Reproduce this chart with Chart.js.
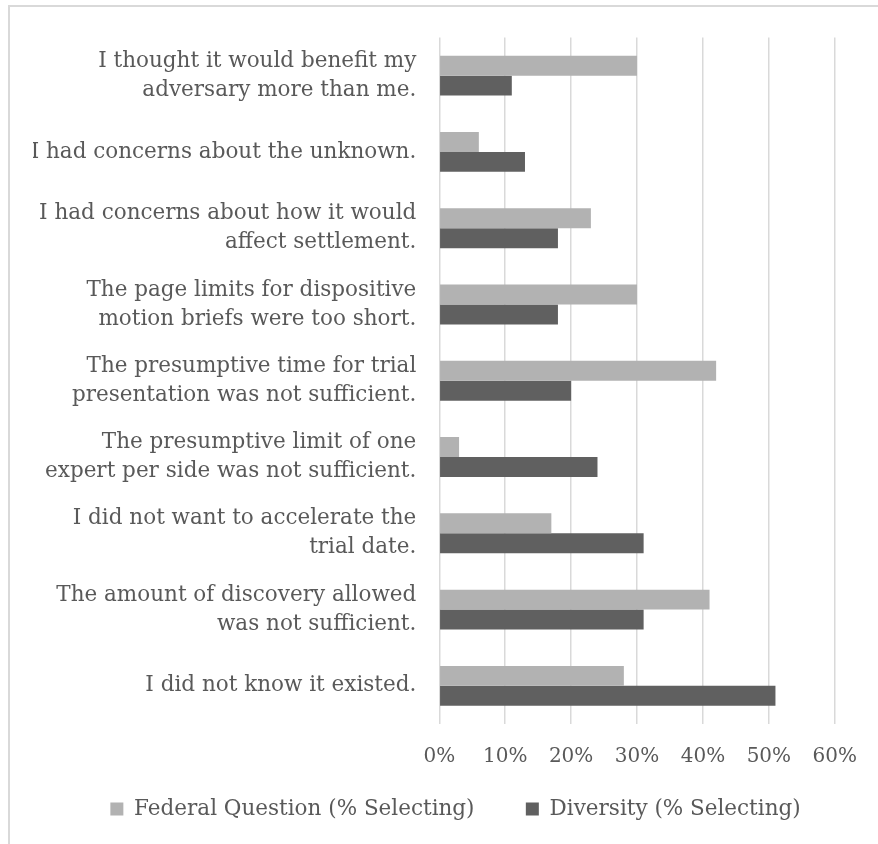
<!DOCTYPE html>
<html>
<head>
<meta charset="utf-8">
<script src="https://cdn.jsdelivr.net/npm/chart.js@4/dist/chart.umd.min.js"></script>
<style>
  html, body { margin: 0; padding: 0; background: #fff; }
  #wrap { position: relative; width: 878px; height: 844px; overflow: hidden; }
  #frame { position: absolute; left: 8px; top: 5px; width: 900px; height: 900px;
           border-left: 2px solid #d9d9d9; border-top: 2px solid #d9d9d9; }
  canvas { position: absolute; left: 0; top: 0; }
</style>
</head>
<body>
<div id="wrap">
  <div id="frame"></div>
  <canvas id="chart" width="878" height="844"></canvas>
</div>
<script>
// reasons given for not using the program, top to bottom
const categories = [
  ["I thought it would benefit my", "adversary more than me."],
  "I had concerns about the unknown.",
  ["I had concerns about how it would", "affect settlement."],
  ["The page limits for dispositive", "motion briefs were too short."],
  ["The presumptive time for trial", "presentation was not sufficient."],
  ["The presumptive limit of one", "expert per side was not sufficient."],
  ["I did not want to accelerate the", "trial date."],
  ["The amount of discovery allowed", "was not sufficient."],
  "I did not know it existed."
];

const federalValues = [30, 6, 23, 30, 42, 3, 17, 41, 28];
const diversityValues = [11, 13, 18, 18, 20, 24, 31, 31, 51];

const xTicks = [0, 10, 20, 30, 40, 50, 60];

const fontFamily = "'DejaVu Serif', serif";
const textColor = "#595959";

const ctx = document.getElementById("chart").getContext("2d");

new Chart(ctx, {
  type: "bar",
  data: {
    labels: categories,
    datasets: [
      {
        label: "Federal Question (% Selecting)",
        data: federalValues,
        backgroundColor: "#b2b2b2",
        borderWidth: 0
      },
      {
        label: "Diversity (% Selecting)",
        data: diversityValues,
        backgroundColor: "#606060",
        borderWidth: 0
      }
    ]
  },
  options: {
    indexAxis: "y",
    responsive: false,
    animation: false,
    categoryPercentage: 0.523,
    barPercentage: 1.0,
    layout: {
      padding: { top: 36, right: 0, bottom: 14.25, left: 33 }
    },
    scales: {
      x: {
        min: 0,
        max: 60,
        afterBuildTicks: s => { s.ticks = xTicks.map(v => ({ value: v })); },
        afterFit: s => { s.height = 50.25; },
        border: { display: false },
        grid: { color: "#d9d9d9", lineWidth: 1.5, drawTicks: false },
        ticks: {
          padding: 21,
          color: textColor,
          font: { family: fontFamily, size: 20 },
          callback: v => v + "%"
        }
      },
      y: {
        afterFit: s => { s.width = 439.3 - 33; },
        border: { display: false },
        grid: { display: false, drawTicks: false },
        ticks: {
          padding: 23,
          color: textColor,
          font: { family: fontFamily, size: 21.5, lineHeight: 1.35 }
        }
      },
      // empty strip on the right, keeps the plot narrower than the legend row
      yRight: {
        type: "category",
        position: "right",
        grid: { display: false, drawTicks: false },
        border: { display: false },
        ticks: { display: false },
        afterFit: s => { s.width = 38.7; }
      }
    },
    plugins: {
      legend: {
        position: "bottom",
        labels: {
          boxWidth: 13,
          boxHeight: 13,
          padding: 24,
          color: textColor,
          font: { family: fontFamily, size: 21.5 },
          generateLabels: chart => {
            const items = Chart.defaults.plugins.legend.labels.generateLabels(chart);
            items[0].text += "    ";
            return items;
          }
        }
      },
      tooltip: { enabled: false }
    }
  }
});
</script>
</body>
</html>
